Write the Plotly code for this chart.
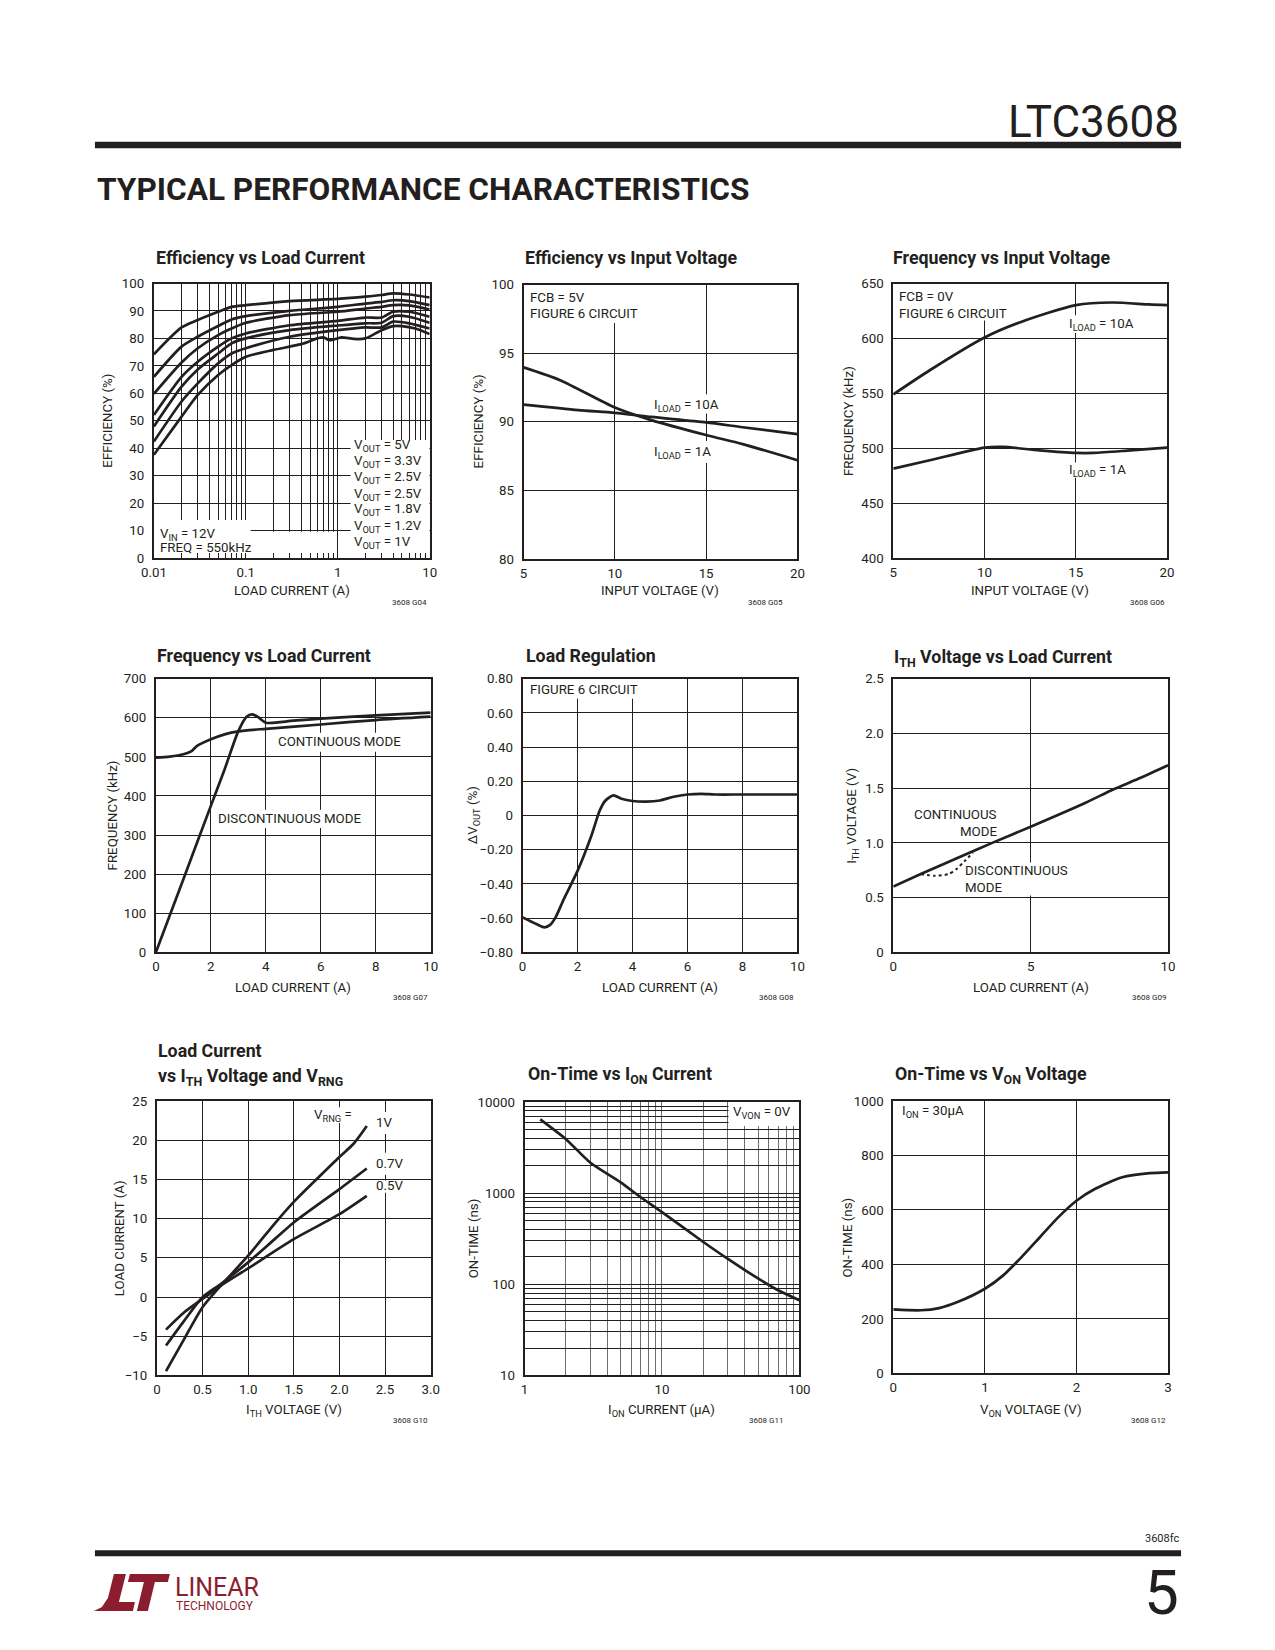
import math
import plotly.graph_objects as go

W, H = 1275, 1650
OFF = 8  # default body margin of the html page
FW, FH = W - 2 * OFF, H - 2 * OFF
# where the figure's edges end up in the photographed page (measured)
SHOT_L, SHOT_R, SHOT_T, SHOT_B = 20.0, 1256.0, 14.0, 1636.0
FONT = "Roboto, Liberation Sans, Arial, sans-serif"
INK = "#231f20"
RED = "#8c1d2e"

# ---------------- data ----------------
# G04 Efficiency vs Load Current
g04_load = [0.01, 0.02, 0.03, 0.05, 0.07, 0.1, 0.3, 1, 2, 3, 4, 6, 10]
g04_eff_5v0 = [74.2, 84.0, 86.7, 89.7, 91.5, 92.1, 93.6, 94.4, 95.2, 95.8, 96.4, 96.0, 94.9]
g04_eff_3v3 = [66.0, 77.0, 80.6, 84.5, 86.9, 88.1, 90.0, 91.5, 92.7, 93.3, 93.9, 93.6, 92.1]
g04_eff_2v5a = [59.8, 71.2, 76.4, 81.2, 83.6, 85.7, 88.5, 89.7, 90.9, 91.5, 92.1, 92.0, 90.5]
g04_eff_2v5b = [52.1, 66.0, 71.5, 77.0, 80.0, 81.8, 84.8, 86.4, 87.6, 87.6, 89.7, 89.7, 87.9]
g04_eff_1v8 = [47.9, 62.4, 68.7, 74.5, 78.2, 80.0, 83.0, 84.7, 85.5, 85.7, 88.1, 87.9, 85.7]
g04_eff_1v2 = [42.4, 57.0, 63.6, 70.9, 74.5, 76.4, 80.6, 83.0, 84.0, 84.0, 86.1, 85.5, 83.6]
g04_load_1v0 = [0.01, 0.02, 0.03, 0.05, 0.07, 0.1, 0.2, 0.4, 0.6, 0.7, 0.8, 0.9, 1.1, 1.5, 2, 3, 4, 5, 7, 10]
g04_eff_1v0 = [37.6, 51.5, 59.4, 66.7, 70.3, 73.3, 75.8, 77.9, 80.0, 80.4, 79.4, 79.6, 80.4, 79.8, 80.0, 83.0, 84.5, 84.5, 83.6, 81.6]
g04_vout_labels = ["5V", "3.3V", "2.5V", "2.5V", "1.8V", "1.2V", "1V"]
g04_decades = [0.01, 0.1, 1, 10]
g04_decade_labels = ["0.01", "0.1", "1", "10"]

# G05 Efficiency vs Input Voltage
g05_vin_1a = [5, 7, 10, 12, 15, 17, 20]
g05_eff_1a = [93.96, 93.03, 91.04, 90.12, 89.03, 88.37, 87.2]
g05_vin_10a = [5, 8, 10, 12, 15, 17, 20]
g05_eff_10a = [91.25, 90.85, 90.65, 90.35, 89.95, 89.6, 89.1]

# G06 Frequency vs Input Voltage
g06_vin_10a = [5, 7, 10, 12, 15, 17, 19, 20]
g06_freq_10a = [549, 571, 600.8, 615, 630.3, 632.7, 630.9, 630.3]
g06_vin_1a = [5, 7, 10, 11, 13, 15, 16, 18, 20]
g06_freq_1a = [481.4, 489, 500.5, 501.2, 498, 495.7, 495.7, 498, 500.5]

# G07 Frequency vs Load Current
g07_load_cont = [0, 0.5, 1, 1.3, 1.5, 2, 2.5, 3, 4, 6, 8, 10]
g07_freq_cont = [498, 500.7, 506.7, 515, 528, 545, 557.8, 565.4, 572, 583, 594.4, 603]
g07_load_disc = [0, 1, 2, 2.5, 3, 3.3, 3.5, 3.7, 4, 5, 6, 8, 10]
g07_freq_disc = [0, 187, 374.7, 468, 566, 603, 609, 603, 587.6, 592.7, 597.8, 606.3, 613.1]

# G08 Load Regulation
g08_load = [0, 0.5, 0.8, 1.0, 1.2, 1.5, 2, 2.5, 2.8, 3, 3.3, 3.6, 4, 4.5, 5, 5.5, 6, 6.5, 7, 8, 10]
g08_dvout = [-0.596, -0.635, -0.654, -0.64, -0.596, -0.489, -0.324, -0.12, 0.026, 0.085, 0.118,
             0.098, 0.085, 0.081, 0.088, 0.11, 0.123, 0.127, 0.123, 0.123, 0.123]
g08_yticks = [0.8, 0.6, 0.4, 0.2, 0, -0.2, -0.4, -0.6, -0.8]
g08_ylabels = ["0.80", "0.60", "0.40", "0.20", "0", "\u22120.20", "\u22120.40", "\u22120.60", "\u22120.80"]

# G09 ITH Voltage vs Load Current
g09_load_cont = [0, 1, 2.5, 3.6, 5, 7, 8, 9, 10]
g09_ith_cont = [0.60, 0.715, 0.88, 1.0, 1.148, 1.367, 1.488, 1.595, 1.71]
g09_load_disc = [1, 1.5, 2, 2.3, 2.6, 2.9]
g09_ith_disc = [0.714, 0.70, 0.714, 0.76, 0.835, 0.91]

# G10 Load Current vs ITH Voltage and VRNG
g10_ith_1v = [0.1, 0.3, 0.5, 0.7, 1.0, 1.3, 1.5, 1.75, 2.0, 2.15, 2.3]
g10_iload_1v = [-9.45, -5.33, -1.3, 1.45, 5.27, 9.5, 12.14, 15.03, 17.87, 19.48, 21.82]
g10_ith_07v = [0.1, 0.3, 0.5, 0.7, 1.0, 1.3, 1.5, 2.0, 2.3]
g10_iload_07v = [-6.18, -3.0, -0.03, 1.67, 4.42, 7.48, 9.51, 13.76, 16.39]
g10_ith_05v = [0.1, 0.3, 0.5, 0.6, 0.7, 1.0, 1.5, 2.0, 2.3]
g10_iload_05v = [-4.15, -1.94, -0.24, 0.6, 1.45, 3.66, 7.39, 10.57, 12.91]
g10_yticks = [25, 20, 15, 10, 5, 0, -5, -10]
g10_ylabels = ["25", "20", "15", "10", "5", "0", "\u22125", "\u221210"]
g10_xticks = [0, 0.5, 1.0, 1.5, 2.0, 2.5, 3.0]
g10_xlabels = ["0", "0.5", "1.0", "1.5", "2.0", "2.5", "3.0"]

# G11 On-Time vs ION Current
g11_ion = [1.3, 2, 3, 5, 7, 10, 20, 30, 50, 70, 100]
g11_ton = [6450, 3910, 2170, 1314, 901, 618, 291, 191, 116, 86, 67]

# G12 On-Time vs VON Voltage
g12_von = [0, 0.3, 0.5, 0.7, 1.0, 1.2, 1.4, 1.6, 1.8, 2.0, 2.2, 2.5, 2.8, 3.0]
g12_ton = [235, 232, 240, 262, 311, 360, 427, 500, 573, 634, 677, 720, 735, 738]

# ---------------- layout geometry (page pixels) ----------------
boxes = {
    1: (153, 429, 283, 558), 2: (523, 797, 284, 559), 3: (893, 1167, 283, 558),
    4: (155, 430, 679, 953), 5: (522, 797, 679, 953), 6: (893, 1168, 679, 953),
    7: (156, 430, 1102, 1377), 8: (524, 799, 1103, 1377), 9: (893, 1168, 1102, 1375),
}


def px(x):
    return (x - SHOT_L) / (SHOT_R - SHOT_L)


def py(y):
    return 1 - (y - SHOT_T) / (SHOT_B - SHOT_T)


def ax_name(i, kind):
    return kind if i == 1 else f"{kind}{i}"


fig = go.Figure()


def line(i, x, y, dash=None, width=2.7):
    fig.add_trace(go.Scatter(
        x=x, y=y, mode="lines",
        line=dict(color=INK, width=width, shape="spline", smoothing=0.7, dash=dash),
        xaxis=ax_name(i, "x"), yaxis=ax_name(i, "y"), hoverinfo="skip"))


line(1, g04_load, g04_eff_5v0)
line(1, g04_load, g04_eff_3v3)
line(1, g04_load, g04_eff_2v5a)
line(1, g04_load, g04_eff_2v5b)
line(1, g04_load, g04_eff_1v8)
line(1, g04_load, g04_eff_1v2)
line(1, g04_load_1v0, g04_eff_1v0)
line(2, g05_vin_1a, g05_eff_1a)
line(2, g05_vin_10a, g05_eff_10a)
line(3, g06_vin_10a, g06_freq_10a)
line(3, g06_vin_1a, g06_freq_1a)
line(4, g07_load_cont, g07_freq_cont)
line(4, g07_load_disc, g07_freq_disc)
line(5, g08_load, g08_dvout)
line(6, g09_load_disc, g09_ith_disc, dash="dot", width=2)
line(6, g09_load_cont, g09_ith_cont)
line(7, g10_ith_1v, g10_iload_1v)
line(7, g10_ith_07v, g10_iload_07v)
line(7, g10_ith_05v, g10_iload_05v)
line(8, g11_ion, g11_ton)
line(9, g12_von, g12_ton)

tickfont = dict(family=FONT, size=13.3, color=INK)
common = dict(showline=True, mirror=True, linecolor=INK, linewidth=2, showgrid=True,
              gridcolor=INK, gridwidth=1, zeroline=False, ticks="", tickfont=tickfont,
              ticklabelstandoff=5, fixedrange=True)


def log_ticks(lo, hi):
    vals = []
    for e in range(lo, hi):
        for m in range(1, 10):
            vals.append(round(m * 10 ** e, 6))
    vals.append(10 ** hi)
    return vals


x1_vals = log_ticks(-2, 1)
x1_text = [g04_decade_labels[g04_decades.index(v)] if v in g04_decades else "" for v in x1_vals]
x8_vals = log_ticks(0, 2)
x8_text = [str(v) if v in (1, 10, 100) else "" for v in x8_vals]
y8_vals = log_ticks(1, 4)
y8_text = [str(v) if v in (10, 100, 1000, 10000) else "" for v in y8_vals]

axes_cfg = {
    1: (dict(type="log", range=[-2, 1], tickvals=x1_vals, ticktext=x1_text, ticks="inside", ticklen=5,
             tickcolor=INK, tickwidth=1),
        dict(range=[0, 100], dtick=10)),
    2: (dict(range=[5, 20], tickvals=[5, 10, 15, 20]), dict(range=[80, 100], dtick=5)),
    3: (dict(range=[5, 20], tickvals=[5, 10, 15, 20]), dict(range=[400, 650], dtick=50)),
    4: (dict(range=[0, 10], dtick=2), dict(range=[0, 700], dtick=100)),
    5: (dict(range=[0, 10], dtick=2), dict(range=[-0.8, 0.8], tickvals=g08_yticks, ticktext=g08_ylabels)),
    6: (dict(range=[0, 10], dtick=5), dict(range=[0, 2.5], tickvals=[0, 0.5, 1.0, 1.5, 2.0, 2.5],
                                            ticktext=["0", "0.5", "1.0", "1.5", "2.0", "2.5"])),
    7: (dict(range=[0, 3], tickvals=g10_xticks, ticktext=g10_xlabels),
        dict(range=[-10, 25], tickvals=g10_yticks, ticktext=g10_ylabels)),
    8: (dict(type="log", range=[0, 2], tickvals=x8_vals, ticktext=x8_text, gridcolor="#6e6e6e"),
        dict(type="log", range=[1, 4], tickvals=y8_vals, ticktext=y8_text)),
    9: (dict(range=[0, 3], dtick=1), dict(range=[0, 1000], dtick=200)),
}

layout_axes = {}
for i, (l, r, t, b) in boxes.items():
    xc, yc = axes_cfg[i]
    xa = dict(common)
    xa.update(domain=[px(l), px(r)], anchor=ax_name(i, "y"), ticklabelstandoff=1)
    xa.update(xc)
    ya = dict(common)
    ya.update(domain=[py(b), py(t)], anchor=ax_name(i, "x"))
    ya.update(yc)
    layout_axes["xaxis" if i == 1 else f"xaxis{i}"] = xa
    layout_axes["yaxis" if i == 1 else f"yaxis{i}"] = ya

shapes = []
annotations = []


def mask(i, x0, x1, y0, y1):
    # white patch between the gridlines and the curves (data coordinates)
    shapes.append(dict(type="rect", layer="between", xref=ax_name(i, "x"), yref=ax_name(i, "y"),
                       x0=x0, x1=x1, y0=y0, y1=y1, fillcolor="white", line=dict(width=0)))


def note(i, x, y, text, xanchor="left", size=13.3):
    annotations.append(dict(xref=ax_name(i, "x"), yref=ax_name(i, "y"),
                            x=x, y=y, text=text, showarrow=False, xanchor=xanchor, yanchor="middle",
                            font=dict(family=FONT, size=size, color=INK)))


# Plot 1 (log x: annotation x in log10 units, shape x in data units)
mask(1, 0.01, 0.113, 0, 13.8)
mask(1, 0.113, 0.95, 0, 9.6)
mask(1, 1.38, 10, 0, 43)
for lab, yv in zip(g04_vout_labels, [41.1, 35.3, 29.5, 23.3, 17.5, 11.3, 5.5]):
    note(1, math.log10(1.42), yv, f"V<sub>OUT</sub> = {lab}")
note(1, math.log10(0.0111), 8.6, "V<sub>IN</sub> = 12V")
note(1, math.log10(0.0111), 3.9, "FREQ = 550kHz")

# Plot 2
mask(2, 5, 11.1, 97.2, 100)
mask(2, 12.0, 15.7, 90.6, 92.0)
mask(2, 12.0, 15.5, 87.0, 88.6)
note(2, 5.22, 99.05, "FCB = 5V")
note(2, 5.22, 97.9, "FIGURE 6 CIRCUIT")
note(2, 12.06, 91.2, "I<sub>LOAD</sub> = 10A")
note(2, 12.06, 87.75, "I<sub>LOAD</sub> = 1A")

# Plot 3
mask(3, 5, 11.1, 616.4, 650)
mask(3, 14.5, 17.8, 605, 621)
mask(3, 14.5, 16.9, 473, 487)
note(3, 5.22, 638.2, "FCB = 0V")
note(3, 5.22, 622.7, "FIGURE 6 CIRCUIT")
note(3, 14.52, 613.0, "I<sub>LOAD</sub> = 10A")
note(3, 14.52, 479.5, "I<sub>LOAD</sub> = 1A")

# Plot 4
mask(4, 4.3, 8.9, 513, 562)
mask(4, 2.15, 7.4, 318, 365)
note(4, 4.36, 539, "CONTINUOUS MODE")
note(4, 2.18, 342, "DISCONTINUOUS MODE")

# Plot 5
mask(5, 0, 4.1, 0.683, 0.8)
note(5, 0.18, 0.736, "FIGURE 6 CIRCUIT")

# Plot 6
mask(6, 2.65, 6.3, 0.52, 0.82)
note(6, 3.85, 1.259, "CONTINUOUS", xanchor="right")
note(6, 3.85, 1.104, "MODE", xanchor="right")
note(6, 2.55, 0.748, "DISCONTINUOUS")
note(6, 2.55, 0.593, "MODE")

# Plot 7
mask(7, 2.36, 2.66, 20.8, 23.6)
mask(7, 2.36, 2.8, 15.6, 18.4)
mask(7, 2.36, 2.8, 13.3, 14.85)
mask(7, 1.68, 2.2, 22.2, 24.2)
note(7, 1.93, 23.1, "V<sub>RNG</sub> =", xanchor="center")
note(7, 2.38, 22.2, "1V")
note(7, 2.38, 17.0, "0.7V")
note(7, 2.38, 14.2, "0.5V")

# Plot 8 (log x and y)
mask(8, 30.5, 100, 5460, 10000)
note(8, math.log10(90.4), math.log10(7700), "V<sub>VON</sub> = 0V", xanchor="right")

# Plot 9
note(9, 0.076, 960, "I<sub>ON</sub> = 30\u00b5A")


def page_text(x, y, text, size, xanchor="left", bold=False, color=INK, angle=0, family=FONT):
    annotations.append(dict(xref="paper", yref="paper", x=px(x), y=py(y),
                            text=f"<b>{text}</b>" if bold else text, showarrow=False,
                            xanchor=xanchor, yanchor="middle", textangle=angle,
                            font=dict(family=family, size=size, color=color)))


# chart titles
titles = {
    1: (153, 257, "Efficiency vs Load Current"),
    2: (522, 257, "Efficiency vs Input Voltage"),
    3: (891, 257, "Frequency vs Input Voltage"),
    4: (154, 656, "Frequency vs Load Current"),
    5: (523, 656, "Load Regulation"),
    6: (892, 658, "I<sub>TH</sub> Voltage vs Load Current"),
    7: (155, 1051, "Load Current"),
    8: (525, 1076, "On-Time vs I<sub>ON</sub> Current"),
    9: (893, 1076, "On-Time vs V<sub>ON</sub> Voltage"),
}
for i, (x, y, t) in titles.items():
    page_text(x, y, t, 17.8, bold=True)
page_text(155, 1078, "vs I<sub>TH</sub> Voltage and V<sub>RNG</sub>", 17.8, bold=True)

# axis titles
xtitles = {1: "LOAD CURRENT (A)", 2: "INPUT VOLTAGE (V)", 3: "INPUT VOLTAGE (V)",
           4: "LOAD CURRENT (A)", 5: "LOAD CURRENT (A)", 6: "LOAD CURRENT (A)",
           7: "I<sub>TH</sub> VOLTAGE (V)", 8: "I<sub>ON</sub> CURRENT (\u00b5A)", 9: "V<sub>ON</sub> VOLTAGE (V)"}
ytitles = {1: "EFFICIENCY (%)", 2: "EFFICIENCY (%)", 3: "FREQUENCY (kHz)", 4: "FREQUENCY (kHz)",
           5: "\u0394V<sub>OUT</sub> (%)", 6: "I<sub>TH</sub> VOLTAGE (V)", 7: "LOAD CURRENT (A)",
           8: "ON-TIME (ns)", 9: "ON-TIME (ns)"}
xtitle_y = {1: 591, 2: 591, 3: 591, 4: 988, 5: 988, 6: 988, 7: 1412, 8: 1412, 9: 1412}
ytitle_x = {1: 107, 2: 478, 3: 848, 4: 112, 5: 473, 6: 852, 7: 118, 8: 473, 9: 847}
codes = {1: "3608 G04", 2: "3608 G05", 3: "3608 G06", 4: "3608 G07", 5: "3608 G08", 6: "3608 G09",
         7: "3608 G10", 8: "3608 G11", 9: "3608 G12"}
code_pos = {1: (428, 603), 2: (785, 603), 3: (1167, 603), 4: (429, 998), 5: (796, 998), 6: (1168, 998),
            7: (429, 1422), 8: (785, 1422), 9: (1168, 1422)}
for i, (l, r, t, b) in boxes.items():
    page_text((l + r) / 2, xtitle_y[i], xtitles[i], 13.3, xanchor="center")
    page_text(ytitle_x[i], (t + b) / 2, ytitles[i], 13.3, xanchor="center", angle=-90)
    cx, cy = code_pos[i]
    page_text(cx, cy, codes[i], 8, xanchor="right")

# page header / footer
page_text(1181, 121, "LTC3608", 44, xanchor="right")
shapes.append(dict(type="rect", xref="paper", yref="paper", x0=px(94), x1=px(1181), y0=py(147.5), y1=py(141),
                   fillcolor=INK, line=dict(width=0)))
page_text(94, 189, "TYPICAL PERFORMANCE CHARACTERISTICS", 31.6, bold=True)
page_text(1181, 1540, "3608fc", 11, xanchor="right")
shapes.append(dict(type="rect", xref="paper", yref="paper", x0=px(94), x1=px(1181), y0=py(1558), y1=py(1552),
                   fillcolor=INK, line=dict(width=0)))
page_text(1181, 1594, "5", 62, xanchor="right")


def path_px(pts):
    s = ""
    for k, (x, y) in enumerate(pts):
        s += ("M " if k == 0 else " L ") + f"{px(x):.5f},{py(y):.5f}"
    return s + " Z"


# Linear Technology logo (approximation)
shapes.append(dict(type="path", xref="paper", yref="paper", fillcolor=RED, line=dict(width=0),
                   path=path_px([(113, 1576), (125, 1576), (118, 1604), (134, 1604), (132, 1613), (93, 1613),
                                 (101, 1609), (107, 1600), (110, 1588)])))
shapes.append(dict(type="path", xref="paper", yref="paper", fillcolor=RED, line=dict(width=0),
                   path=path_px([(129, 1576), (169, 1576), (167, 1584), (154, 1584), (147, 1613), (136, 1613),
                                 (143, 1584), (127, 1584)])))
page_text(172, 1589, "LINEAR", 25, color=RED)
page_text(173, 1608, "TECHNOLOGY", 12, color=RED)

fig.update_layout(width=FW, height=FH, autosize=False, margin=dict(l=0, r=0, t=0, b=0), showlegend=False,
                  paper_bgcolor="white", plot_bgcolor="white", shapes=shapes, annotations=annotations,
                  font=dict(family=FONT, color=INK), **layout_axes)

fig.write_html("out.html", config={"responsive": False})
